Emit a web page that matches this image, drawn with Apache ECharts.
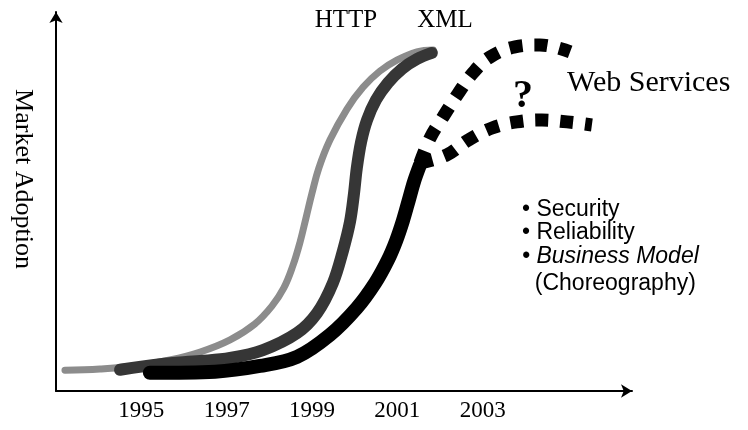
<!DOCTYPE html>
<html>
<head>
<meta charset="utf-8">
<script src="https://cdn.jsdelivr.net/npm/echarts@6/dist/echarts.min.js"></script>
<style>
html,body{margin:0;padding:0;background:#fff;}
#main{width:748px;height:430px;}
</style>
</head>
<body>
<div id="main"></div>
<script>
// ---- data (years on x, relative market adoption on y) ----
var tickYears = [1995, 1997, 1999, 2001, 2003];

var httpYears    = [1993.21, 1994.03, 1994.85, 1995.67, 1996.38, 1997.08, 1997.66, 1998.06, 1998.34, 1998.55, 1998.72, 1998.86, 1999.00, 1999.16, 1999.42, 1999.82, 2000.20, 2000.59, 2000.99, 2001.46, 2001.84];
var httpAdoption = [5.5, 5.8, 6.6, 8.2, 10.3, 13.5, 17.7, 22.4, 27.2, 33.0, 39.3, 45.7, 52.2, 58.8, 66.2, 74.4, 80.2, 84.4, 87.3, 89.5, 90.0];

var xmlYears     = [1994.50, 1995.44, 1996.38, 1997.08, 1997.85, 1998.65, 1999.12, 1999.49, 1999.73, 1999.89, 1999.98, 2000.05, 2000.15, 2000.29, 2000.50, 2000.78, 2001.11, 2001.46, 2001.81];
var xmlAdoption  = [5.6, 7.1, 7.9, 8.7, 10.8, 15.3, 20.6, 28.5, 37.2, 44.6, 51.7, 58.8, 65.7, 71.5, 76.8, 81.3, 85.0, 87.6, 89.2];

var wsYears      = [1995.20, 1996.73, 1997.78, 1998.65, 1999.42, 2000.05, 2000.48, 2000.78, 2000.97, 2001.13, 2001.27, 2001.39, 2001.53];
var wsAdoption   = [4.8, 5.1, 6.6, 9.0, 14.8, 21.9, 28.5, 34.6, 39.6, 44.9, 50.4, 55.2, 59.6];

var wsHighYears    = [2001.53, 2001.77, 2002.07, 2002.42, 2002.77, 2003.17, 2003.76, 2004.34, 2005.05];
var wsHighAdoption = [60.2, 66.8, 72.3, 78.4, 83.9, 88.1, 90.8, 91.3, 89.5];

var wsLowYears     = [2001.53, 2002.16, 2002.66, 2003.22, 2003.80, 2004.39, 2004.98, 2005.56];
var wsLowAdoption  = [60.2, 62.3, 66.2, 69.4, 71.0, 71.5, 71.0, 70.2];

var bullets = ['\u2022 Security', '\u2022 Reliability', '\u2022 Business Model', '  (Choreography)'];

function zip(a, b) { return a.map(function (v, i) { return [v, b[i]]; }); }

var chart = echarts.init(document.getElementById('main'), null, {renderer: 'canvas'});

var serif = '"Liberation Serif", "Times New Roman", serif';
var sans = '"Liberation Sans", Arial, sans-serif';

var graphics = [
  {type: 'text', x: 23, y: 179, rotation: -Math.PI / 2,
   style: {text: 'Market Adoption', font: '26px ' + serif, fill: '#000', align: 'center', verticalAlign: 'middle'}},
  {type: 'text', x: 346, y: 20,
   style: {text: 'HTTP', font: '25px ' + serif, fill: '#000', align: 'center', verticalAlign: 'middle'}},
  {type: 'text', x: 445, y: 20,
   style: {text: 'XML', font: '25px ' + serif, fill: '#000', align: 'center', verticalAlign: 'middle'}},
  {type: 'text', x: 567, y: 83,
   style: {text: 'Web Services', font: '30px ' + serif, fill: '#000', align: 'left', verticalAlign: 'middle'}},
  {type: 'text', x: 523, y: 97,
   style: {text: '?', font: 'bold 40px ' + serif, fill: '#000', align: 'center', verticalAlign: 'middle'}}
];
var bulletY = [210, 233, 257, 284];
bullets.forEach(function (t, i) {
  graphics.push({type: 'text', x: 522, y: bulletY[i],
    style: {text: t, font: (i === 2 ? 'italic ' : '') + '23px ' + sans, fill: '#000', align: 'left', verticalAlign: 'middle'}});
});

var option = {
  backgroundColor: '#fff',
  animation: false,
  grid: {left: 56, right: 116, top: 12, bottom: 39},
  xAxis: {
    type: 'value', min: 1993, max: 2006.5,
    axisLine: {show: true, symbol: ['none', 'arrow'], symbolSize: [10, 11], lineStyle: {color: '#000', width: 2}},
    axisTick: {show: false},
    splitLine: {show: false},
    axisLabel: {customValues: tickYears, color: '#000', fontFamily: serif, fontSize: 23, margin: 8,
      formatter: function (v) { return String(v); }}
  },
  yAxis: {
    type: 'value', min: 0, max: 100,
    axisLine: {show: true, symbol: ['none', 'arrow'], symbolSize: [10, 11], lineStyle: {color: '#000', width: 2}},
    axisTick: {show: false},
    splitLine: {show: false},
    axisLabel: {show: false}
  },
  series: [
    {name: 'HTTP', type: 'line', data: zip(httpYears, httpAdoption), smooth: 0.4, showSymbol: false,
     lineStyle: {color: '#8c8c8c', width: 7, cap: 'round', join: 'round'}},
    {name: 'XML', type: 'line', data: zip(xmlYears, xmlAdoption), smooth: 0.35, showSymbol: false,
     lineStyle: {color: '#363636', width: 12, cap: 'round', join: 'round'}},
    {name: 'Web Services', type: 'line', data: zip(wsYears, wsAdoption), smooth: 0.35, showSymbol: false,
     lineStyle: {color: '#000', width: 14, cap: 'round', join: 'round'}},
    {name: 'WS high', type: 'line', data: zip(wsHighYears, wsHighAdoption), smooth: 0.4, showSymbol: false,
     lineStyle: {color: '#000', width: 13, type: [13, 12], cap: 'butt'}},
    {name: 'WS low', type: 'line', data: zip(wsLowYears, wsLowAdoption), smooth: 0.4, showSymbol: false,
     lineStyle: {color: '#000', width: 13, type: [13, 12], cap: 'butt'}}
  ],
  graphic: graphics
};
chart.setOption(option);
</script>
</body>
</html>
